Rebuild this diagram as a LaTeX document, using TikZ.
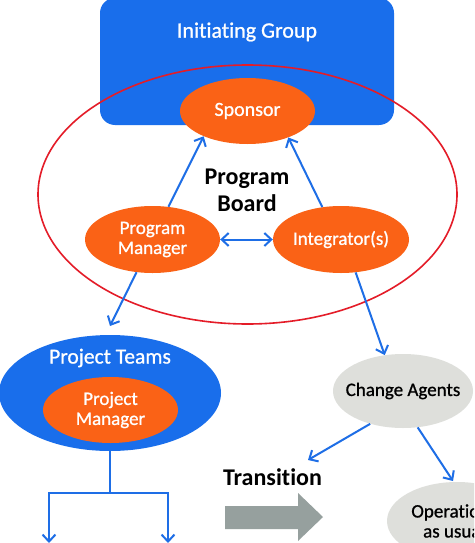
\documentclass[tikz,border=0pt]{standalone}
\usepackage{fontspec}
\setmainfont{Carlito}[Ligatures={NoCommon}]
\newfontfamily\medfont{Carlito}[FakeBold=0.9,Ligatures={NoCommon}]
\usetikzlibrary{shapes.geometric,arrows.meta}
\definecolor{gblue}{RGB}{25,110,235}
\definecolor{lblue}{RGB}{30,110,230}
\definecolor{gorange}{RGB}{250,98,22}
\definecolor{ggrey}{RGB}{222,223,219}
\definecolor{agrey}{RGB}{150,160,158}
\definecolor{gred}{RGB}{228,28,40}
\tikzset{
  oval/.style={ellipse, inner sep=0pt, draw=none},
  orangeoval/.style={oval, fill=gorange},
  greyoval/.style={oval, fill=ggrey},
  wtext/.style={text=white, font=\medfont\fontsize{19}{20}\selectfont, align=center},
  ktext/.style={text=black, font=\medfont\fontsize{19}{20}\selectfont, align=center},
  btext/.style={text=black, font=\bfseries\fontsize{24}{27}\selectfont, align=center},
  arr/.style={draw=lblue, line width=2pt, -{Straight Barb[length=7pt,width=13pt]}},
  darr/.style={draw=lblue, line width=2pt, {Straight Barb[length=7pt,width=13pt]}-{Straight Barb[length=7pt,width=13pt]}},
  plain/.style={draw=lblue, line width=2pt}
}
\begin{document}
\begin{tikzpicture}[x=1pt,y=-1pt]
\useasboundingbox (0,0) rectangle (474,543);
\clip (0,0) rectangle (474,543);
\fill[white] (0,0) rectangle (474,543);
% Initiating group
\node[rectangle, rounded corners=15pt, fill=gblue, minimum width=294pt, minimum height=127pt, inner sep=0pt] (ig) at (247,61.5) {};
\node[wtext, font=\medfont\fontsize{22}{23}\selectfont] (igt) at (247,32) {Initiating Group};
% Program board ellipse
\node[ellipse, draw=gred, line width=1.6pt, minimum width=419pt, minimum height=259pt, inner sep=0pt] (pb) at (247.5,194.5) {};
% Sponsor
\node[orangeoval, minimum width=135pt, minimum height=66pt, label={[wtext, font=\medfont\fontsize{20}{21}\selectfont]center:Sponsor}] (sp) at (247.5,111) {};
\node[btext] (pbt) at (247,190) {Program\\Board};
% Program manager & integrators
\node[orangeoval, minimum width=135pt, minimum height=67pt, label={[wtext]center:Program\\Manager}] (pm) at (152.5,239.5) {};
\node[orangeoval, minimum width=136pt, minimum height=67pt, label={[wtext]center:Integrator(s)}] (in) at (341,239.5) {};
% Project teams
\node[oval, fill=gblue, minimum width=222pt, minimum height=116pt, label={[wtext, font=\medfont\fontsize{21.5}{23}\selectfont, yshift=35pt]center:Project Teams}] (pt) at (110,393) {};
\node[orangeoval, minimum width=135pt, minimum height=66pt, label={[wtext]center:Project\\Manager}] (pjm) at (110.5,410) {};
% Change agents
\node[greyoval, minimum width=140pt, minimum height=74pt, label={[ktext]center:Change Agents}] (ca) at (403,391) {};
% Operations as usual
\node[greyoval, minimum width=140pt, minimum height=78pt, label={[ktext, xshift=-3pt]center:Operations\\as usual}] (op) at (457,521) {};
% Transition
\node[btext] (tr) at (272.5,477) {Transition};
\fill[agrey] (225,506) -- (298,506) -- (298,493) -- (323,517) -- (298,541) -- (298,529) -- (225,529) -- cycle;
% connectors
\coordinate (ptin) at (110,326);
\coordinate (tl) at (308,460);
\coordinate (tr2) at (453,481);
\coordinate (bj) at (110,493);
\coordinate (bl) at (49,493);
\coordinate (br) at (168,493);
\coordinate (ble) at (49,543);
\coordinate (bre) at (168,543);
\draw[arr] (pm.64) -- (sp.210);
\draw[arr] (in.120) -- (sp.-33);
\draw[darr] (pm.east) -- (in.west);
\draw[arr] (pm.-116) -- (ptin);
\draw[arr] (in.-66) -- (ca.117);
\draw[arr] (ca.-135) -- (tl);
\draw[arr] (ca.-68) -- (tr2);
\draw[plain] (pt.south) -- (bj);
\draw[plain, line cap=rect] (bl) -- (br);
\draw[arr] (bl) -- (ble);
\draw[arr] (br) -- (bre);
\end{tikzpicture}
\end{document}
